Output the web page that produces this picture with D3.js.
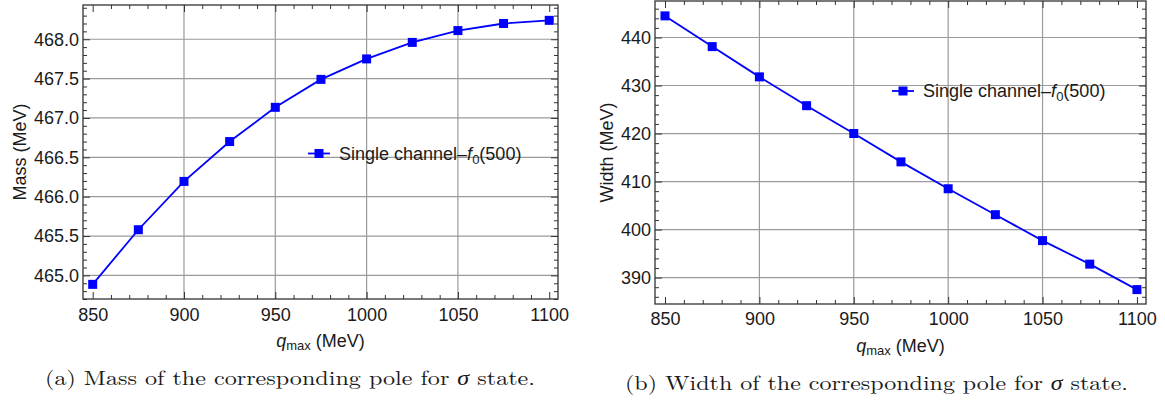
<!DOCTYPE html>
<html>
<head>
<meta charset="utf-8">
<script src="https://cdn.jsdelivr.net/npm/d3@7"></script>
<style>
  html, body { margin: 0; padding: 0; background: #fff; }
  svg { display: block; }
  .tick-label { font-family: "Liberation Sans", Arial, sans-serif; font-size: 18px; fill: #1a1a1a; }
  .caption { font-family: "Latin Modern Roman", "Liberation Serif", serif; font-size: 20px; fill: #1a1a1a; }
</style>
</head>
<body>
<svg id="chart" width="1165" height="406"></svg>
<script>
// Pole position versus the cutoff q_max (MeV)
const qmax = [850, 875, 900, 925, 950, 975, 1000, 1025, 1050, 1075, 1100];
const massValues = [464.886, 465.58, 466.194, 466.70, 467.135, 467.49, 467.75, 467.96, 468.11, 468.20, 468.24];
const widthValues = [444.5, 438.1, 431.8, 425.8, 420.0, 414.1, 408.5, 403.1, 397.7, 392.8, 387.5];

// Axis ticks and grid
const xTicks = [850, 900, 950, 1000, 1050, 1100];
const xGrid = [900, 950, 1000, 1050];
const massTicks = [465.0, 465.5, 466.0, 466.5, 467.0, 467.5, 468.0];
const widthTicks = [390, 400, 410, 420, 430, 440];

const seriesName = "Single channel";
const captionA = ["(a) Mass of the corresponding pole for ", "σ", " state."];
const captionB = ["(b) Width of the corresponding pole for ", "σ", " state."];

const svg = d3.select("#chart");
const BLUE = "#0000ff";
const GRID = "#9a9a9a";
const FRAME = "#333";

function range(a, b, step) {
  const out = [];
  const n = Math.round((b - a) / step);
  for (let i = 0; i <= n; i++) out.push(+(a + i * step).toFixed(6));
  return out;
}

function panel(cfg) {
  const g = svg.append("g");
  const x = d3.scaleLinear().domain([844.7, 1104.8]).range([cfg.left, cfg.right]);
  const y = d3.scaleLinear().domain(cfg.yDomain).range([cfg.bottom, cfg.top]);

  // grid lines
  g.append("g").selectAll("line").data(xGrid).join("line")
    .attr("x1", d => x(d)).attr("x2", d => x(d))
    .attr("y1", cfg.top).attr("y2", cfg.bottom)
    .attr("stroke", GRID).attr("stroke-width", 1.2);
  g.append("g").selectAll("line").data(cfg.yTicks).join("line")
    .attr("x1", cfg.left).attr("x2", cfg.right)
    .attr("y1", d => y(d)).attr("y2", d => y(d))
    .attr("stroke", GRID).attr("stroke-width", 1.2);

  const xMinor = range(850, 1100, 10).filter(v => !xTicks.includes(v));
  const yMinor = range(cfg.minorStart, cfg.minorEnd, cfg.minorStep)
    .filter(v => !cfg.yTicks.some(t => Math.abs(t - v) < 1e-6));

  const styleAxis = sel => {
    sel.select(".domain").remove();
    sel.selectAll(".tick line").attr("stroke", FRAME).attr("stroke-width", 1);
  };

  // major + minor ticks on all four sides, pointing inward
  const axes = [
    { a: d3.axisBottom(x), tr: `translate(0,${cfg.bottom})`, maj: xTicks, min: xMinor, lab: true, pad: cfg.xPad },
    { a: d3.axisTop(x), tr: `translate(0,${cfg.top})`, maj: xTicks, min: xMinor, lab: false, pad: 3 },
    { a: d3.axisLeft(y), tr: `translate(${cfg.left},0)`, maj: cfg.yTicks, min: yMinor, lab: true, yAxis: true, pad: cfg.yPad },
    { a: d3.axisRight(y), tr: `translate(${cfg.right},0)`, maj: cfg.yTicks, min: yMinor, lab: false, yAxis: true, pad: 3 }
  ];
  axes.forEach(ax => {
    const gMaj = g.append("g").attr("transform", ax.tr)
      .call(ax.a.tickValues(ax.maj).tickSizeInner(-7).tickSizeOuter(0).tickPadding(ax.pad)
        .tickFormat(ax.lab ? (ax.yAxis ? cfg.yFormat : d3.format("d")) : ""));
    styleAxis(gMaj);
    gMaj.attr("font-size", null).attr("font-family", null);
    gMaj.selectAll(".tick text").attr("class", "tick-label").attr("fill", null);
    const gMin = g.append("g").attr("transform", ax.tr)
      .call(ax.a.tickValues(ax.min).tickSizeInner(-4).tickSizeOuter(0).tickFormat(""));
    styleAxis(gMin);
  });

  // frame
  g.append("rect").attr("x", cfg.left).attr("y", cfg.top)
    .attr("width", cfg.right - cfg.left).attr("height", cfg.bottom - cfg.top)
    .attr("fill", "none").attr("stroke", FRAME).attr("stroke-width", 1.3);

  // series
  const pts = qmax.map((q, i) => [q, cfg.values[i]]);
  g.append("path").datum(pts)
    .attr("d", d3.line().x(d => x(d[0])).y(d => y(d[1])))
    .attr("fill", "none").attr("stroke", BLUE).attr("stroke-width", 1.8);
  const ms = 9;
  g.append("g").selectAll("rect").data(pts).join("rect")
    .attr("x", d => x(d[0]) - ms / 2).attr("y", d => y(d[1]) - ms / 2)
    .attr("width", ms).attr("height", ms).attr("fill", BLUE);

  // legend
  const lg = g.append("g").attr("transform", `translate(${cfg.legend[0]},${cfg.legend[1]})`);
  lg.append("line").attr("x1", 0).attr("x2", 22).attr("y1", 0).attr("y2", 0)
    .attr("stroke", BLUE).attr("stroke-width", 1.8);
  lg.append("rect").attr("x", 11 - ms / 2).attr("y", -ms / 2).attr("width", ms).attr("height", ms).attr("fill", BLUE);
  const lt = lg.append("text").attr("class", "tick-label").attr("x", 31).attr("y", 6);
  lt.append("tspan").text(seriesName + "\u2013");
  lt.append("tspan").attr("font-style", "italic").text("f");
  lt.append("tspan").attr("font-size", 13).attr("dy", 4).text("0");
  lt.append("tspan").attr("dy", -4).text("(500)");

  // axis titles
  g.append("text").attr("class", "tick-label")
    .attr("transform", `translate(${cfg.yTitleX},${(cfg.top + cfg.bottom) / 2}) rotate(-90)`)
    .attr("text-anchor", "middle").text(cfg.yTitle);
  const xt = g.append("text").attr("class", "tick-label")
    .attr("x", (cfg.left + cfg.right) / 2).attr("y", cfg.xTitleY).attr("text-anchor", "middle");
  xt.append("tspan").attr("font-style", "italic").text("q");
  xt.append("tspan").attr("font-size", 13).attr("dy", 3).text("max");
  xt.append("tspan").attr("dy", -3).text(" (MeV)");

  // caption
  const ct = g.append("text").attr("class", "caption")
    .attr("x", cfg.caption[0]).attr("y", cfg.caption[1])
    .attr("textLength", cfg.caption[2]).attr("lengthAdjust", "spacingAndGlyphs");
  ct.append("tspan").text(cfg.captionText[0]);
  ct.append("tspan").attr("font-style", "italic").text(cfg.captionText[1]);
  ct.append("tspan").text(cfg.captionText[2]);
}

panel({
  left: 83, right: 558, top: 5, bottom: 299,
  yDomain: [464.70, 468.435], yTicks: massTicks, yFormat: d3.format(".1f"),
  minorStart: 464.7, minorEnd: 468.4, minorStep: 0.1,
  values: massValues, legend: [308, 153.5], xPad: 9, yPad: 4,
  yTitle: "Mass (MeV)", yTitleX: 26, xTitleY: 347,
  caption: [45, 385, 490], captionText: captionA
});

panel({
  left: 655, right: 1146, top: 1, bottom: 304,
  yDomain: [384.5, 447.6], yTicks: widthTicks, yFormat: d3.format("d"),
  minorStart: 386, minorEnd: 446, minorStep: 2,
  values: widthValues, legend: [892, 91], xPad: 8, yPad: 4,
  yTitle: "Width (MeV)", yTitleX: 613, xTitleY: 352,
  caption: [625, 390, 503], captionText: captionB
});
</script>
</body>
</html>
